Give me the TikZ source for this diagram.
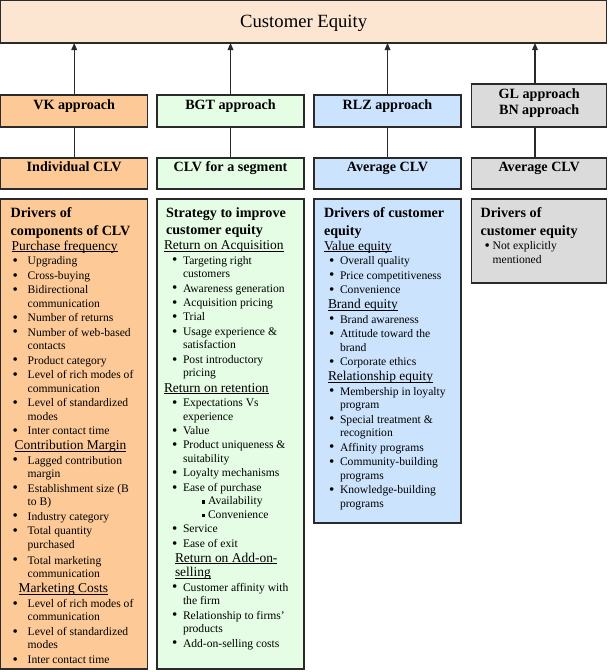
\documentclass[tikz,border=0pt]{standalone}
\usepackage{fontspec}
\setmainfont{Liberation Serif}
\usetikzlibrary{arrows.meta}
\newlength\px \setlength\px{0.75pt}
\definecolor{ceq}{HTML}{FCE6D2}
\definecolor{vkc}{HTML}{FDC997}
\definecolor{bgtc}{HTML}{E4FDE4}
\definecolor{rlzc}{HTML}{CBE3FD}
\definecolor{glc}{HTML}{DBDBDB}
\definecolor{edge}{HTML}{2A2A2A}
\newcommand\bodyf{\fontsize{8.7pt}{10.2pt}\selectfont}
\newcommand\hdf{\fontsize{10.6pt}{10.2pt}\selectfont\bfseries}
\newcommand\subf{\fontsize{10.1pt}{10.2pt}\selectfont}
\newcommand\ulx[1]{\setbox0\hbox{#1}\rlap{\rule[-1.6\px]{\wd0}{0.8\px}}\box0}
\newlength\bux \newlength\txx \newlength\sqx \newlength\sqtx
\newcommand\bi[1]{\par\vspace{0.8\px}\noindent\makebox[0pt][l]{\hspace*{\bux}\raisebox{-0.8\px}{\scalebox{1.3}{\textbullet}}}\hspace*{\txx}\mbox{#1}\strut}
\newcommand\ci[1]{\par\noindent\hspace*{\txx}\mbox{#1}\strut}
\newcommand\hd[2]{\par\vspace{2\px}\noindent\hspace*{#1\px}\mbox{\hdf #2}\strut}
\newcommand\sbh[2]{\par\vspace{1.6\px}\noindent\hspace*{#1\px}\mbox{\subf\ulx{#2}}\strut}
\newcommand\sq[1]{\par\noindent\makebox[0pt][l]{\hspace*{\sqx}\raisebox{1.3\px}{\rule{3.2\px}{3.2\px}}}\hspace*{\sqtx}\mbox{#1}\strut}
\newcommand\Bx[4]{\begin{minipage}[t][#1\px][t]{#2\px}\centering\rule{0pt}{#3\px}#4\end{minipage}}
\newcommand\smallhd{\fontsize{10.6pt}{12pt}\selectfont\bfseries}
\tikzset{
  box/.style={draw=edge, line width=1.05pt, inner sep=0pt, outer sep=0pt, anchor=north west},
  arr/.style={draw=edge, line width=0.8pt, -{Triangle[length=5.4pt,width=4.4pt]}},
  conn/.style={draw=edge, line width=0.8pt}
}
\begin{document}
\begin{tikzpicture}[x=0.75pt,y=-0.75pt]
\fill[white] (0,0) rectangle (609,672);
\useasboundingbox (0,0) rectangle (609,672);
% top
\node[box, fill=ceq] (top) at (0.7,0.7) {\Bx{42.3}{606}{27}{\fontsize{14pt}{16pt}\selectfont Customer Equity}};
% approach boxes
\node[box, fill=vkc] (vka) at (0.7,95) {\Bx{32}{147}{14}{\smallhd VK approach}};
\node[box, fill=bgtc] (bgta) at (157,95) {\Bx{32}{147}{14}{\smallhd BGT approach}};
\node[box, fill=rlzc] (rlza) at (314,95) {\Bx{32}{147}{14}{\smallhd RLZ approach}};
\node[box, fill=glc] (gla) at (471.7,84) {\Bx{43}{135}{14.3}{\smallhd GL approach\\BN approach}};
% CLV boxes
\node[box, fill=vkc] (vkc) at (0.7,158) {\Bx{31}{147}{13.7}{\smallhd Individual CLV}};
\node[box, fill=bgtc] (bgtc) at (157,158) {\Bx{31}{147}{13.7}{\smallhd CLV for a segment}};
\node[box, fill=rlzc] (rlzc) at (314,158) {\Bx{31}{147}{13.7}{\smallhd Average CLV}};
\node[box, fill=glc] (glc) at (471.7,158) {\Bx{31}{135}{13.7}{\smallhd Average CLV}};
% driver boxes
\node[box, fill=vkc] (vkd) at (0.7,199) {\begin{minipage}[t][470\px][t]{147\px}\bodyf
\setlength\bux{12\px}\setlength\txx{27\px}\vspace*{7\px}
\hd{10}{Drivers of}
\hd{10}{components of CLV}
\sbh{11}{Purchase frequency}
\bi{Upgrading}
\bi{Cross-buying}
\bi{Bidirectional}\ci{communication}
\bi{Number of returns}
\bi{Number of web-based}\ci{contacts}
\bi{Product category}
\bi{Level of rich modes of}\ci{communication}
\bi{Level of standardized}\ci{modes}
\bi{Inter contact time}
\sbh{14}{Contribution Margin}
\bi{Lagged contribution}\ci{margin}
\bi{Establishment size (B}\ci{to B)}
\bi{Industry category}
\bi{Total quantity}\ci{purchased}
\par\vspace{1.5\px}
\bi{Total marketing}\ci{communication}
\sbh{18}{Marketing Costs}
\bi{Level of rich modes of}\ci{communication}
\bi{Level of standardized}\ci{modes}
\bi{Inter contact time}
\end{minipage}};
\node[box, fill=bgtc] (bgtd) at (157,199) {\begin{minipage}[t][470\px][t]{147\px}\bodyf
\setlength\bux{15\px}\setlength\txx{26\px}\setlength\sqx{45\px}\setlength\sqtx{51\px}\vspace*{6.5\px}
\hd{9}{Strategy to improve}
\hd{9}{customer equity}
\sbh{7}{Return on Acquisition}
\bi{Targeting right}\ci{customers}
\bi{Awareness generation}
\bi{Acquisition pricing}
\bi{Trial}
\bi{Usage experience \&}\ci{satisfaction}
\bi{Post introductory}\ci{pricing}
\sbh{7}{Return on retention}
\bi{Expectations Vs}\ci{experience}
\bi{Value}
\bi{Product uniqueness \&}\ci{suitability}
\bi{Loyalty mechanisms}
\bi{Ease of purchase}
\sq{Availability}
\sq{Convenience}
\bi{Service}
\bi{Ease of exit}
\sbh{18}{Return on Add-on-}
\par\vspace{-1\px}
\sbh{18}{selling}
\bi{Customer affinity with}\ci{the firm}
\bi{Relationship to firms'}\ci{products}
\bi{Add-on-selling costs}
\end{minipage}};
\node[box, fill=rlzc] (rlzd) at (314,199) {\begin{minipage}[t][324\px][t]{147\px}\bodyf
\setlength\bux{15\px}\setlength\txx{26\px}\vspace*{7\px}
\hd{10}{Drivers of customer}
\hd{10}{equity}
\sbh{10}{Value equity}
\bi{Overall quality}
\bi{Price competitiveness}
\bi{Convenience}
\sbh{14}{Brand equity}
\bi{Brand awareness}
\bi{Attitude toward the}\ci{brand}
\bi{Corporate ethics}
\sbh{14}{Relationship equity}
\bi{Membership in loyalty}\ci{program}
\bi{Special treatment \&}\ci{recognition}
\bi{Affinity programs}
\bi{Community-building}\ci{programs}
\bi{Knowledge-building}\ci{programs}
\end{minipage}};
\node[box, fill=glc] (gld) at (471.7,199) {\begin{minipage}[t][84\px][t]{135\px}\bodyf
\setlength\bux{13\px}\setlength\txx{21\px}\vspace*{7\px}
\hd{9}{Drivers of}
\hd{9}{customer equity}
\bi{Not explicitly}\ci{mentioned}
\end{minipage}};
% connectors
\coordinate (glx) at (535,0);
\draw[arr] (vka.north) -- (vka.north |- top.south);
\draw[arr] (bgta.north) -- (bgta.north |- top.south);
\draw[arr] (rlza.north) -- (rlza.north |- top.south);
\draw[arr] (glx |- gla.north) -- (glx |- top.south);
\draw[conn] (vkc.north) -- (vka.south);
\draw[conn] (bgtc.north) -- (bgta.south);
\draw[conn] (rlzc.north) -- (rlza.south);
\draw[conn] (glx |- glc.north) -- (glx |- gla.south);
\end{tikzpicture}
\end{document}
